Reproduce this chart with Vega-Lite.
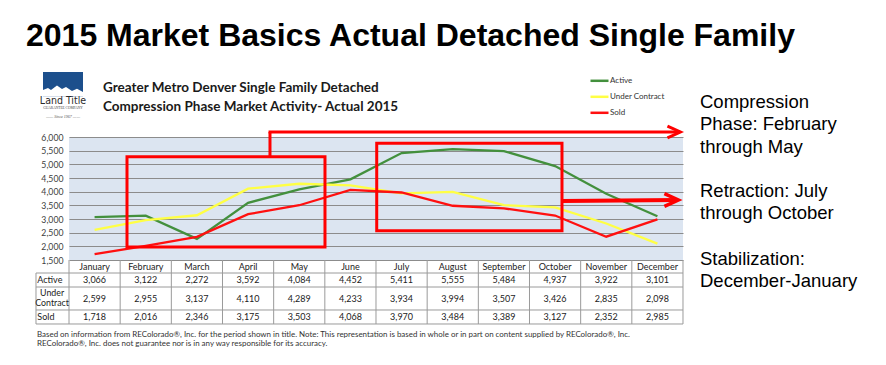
{
  "$schema": "https://vega.github.io/schema/vega-lite/v6.json",
  "width": 614,
  "height": 123,
  "autosize": {"type": "none"},
  "padding": {"left": 69, "top": 137, "right": 203, "bottom": 105},
  "background": "white",
  "config": {"view": {"fill": "#dce5f1", "stroke": null}, "font": "Lato"},
  "resolve": {"axis": {"x": "independent", "y": "independent"}},
  "data": {"values": [
    {"month": "January", "m": 1, "Active": 3066, "Under Contract": 2599, "Sold": 1718},
    {"month": "February", "m": 2, "Active": 3122, "Under Contract": 2955, "Sold": 2016},
    {"month": "March", "m": 3, "Active": 2272, "Under Contract": 3137, "Sold": 2346},
    {"month": "April", "m": 4, "Active": 3592, "Under Contract": 4110, "Sold": 3175},
    {"month": "May", "m": 5, "Active": 4084, "Under Contract": 4289, "Sold": 3503},
    {"month": "June", "m": 6, "Active": 4452, "Under Contract": 4233, "Sold": 4068},
    {"month": "July", "m": 7, "Active": 5411, "Under Contract": 3934, "Sold": 3970},
    {"month": "August", "m": 8, "Active": 5555, "Under Contract": 3994, "Sold": 3484},
    {"month": "September", "m": 9, "Active": 5484, "Under Contract": 3507, "Sold": 3389},
    {"month": "October", "m": 10, "Active": 4937, "Under Contract": 3426, "Sold": 3127},
    {"month": "November", "m": 11, "Active": 3922, "Under Contract": 2835, "Sold": 2352},
    {"month": "December", "m": 12, "Active": 3101, "Under Contract": 2098, "Sold": 2985}
  ]},
  "layer": [
    {
      "transform": [{"fold": ["Active", "Under Contract", "Sold"], "as": ["series", "value"]}],
      "mark": {"type": "line", "strokeWidth": 2.3},
      "encoding": {
        "x": {"field": "m", "type": "quantitative", "scale": {"domain": [0.5, 12.5], "nice": false, "zero": false}, "axis": null},
        "y": {"field": "value", "type": "quantitative", "scale": {"domain": [1500, 6000], "nice": false, "zero": false},
          "axis": {"values": [1500, 2000, 2500, 3000, 3500, 4000, 4500, 5000, 5500, 6000], "labelExpr": "format(datum.value, ',')", "title": null, "domain": false, "ticks": false,
            "labelFontSize": 8.7, "labelColor": "#404040", "labelPadding": 6, "labelFont": "Lato", "labelFlush": false, "labelOverlap": false,
            "grid": true, "gridColor": "#8c8c8c", "gridWidth": 1}},
        "color": {"field": "series", "type": "nominal",
          "scale": {"domain": ["Active", "Under Contract", "Sold"], "range": ["#43903d", "#ffff44", "#ff1010"]},
          "legend": {"orient": "none", "legendX": 523, "legendY": -63.7, "title": null, "symbolType": "M-1.5,0H1.5", "symbolSize": 144,
            "symbolStrokeWidth": 2.5, "labelFontSize": 8, "labelFont": "Lato", "labelColor": "#333333", "labelOffset": 3, "rowPadding": 3, "padding": 0, "direction": "vertical"}}
      }
    },
    {
      "mark": {"type": "rule", "color": "#9a9a9a", "strokeWidth": 1, "xOffset": 25.58},
      "encoding": {
        "x": {"field": "m", "type": "quantitative", "scale": {"domain": [0.5, 12.5], "nice": false, "zero": false}, "axis": null},
        "y": {"datum": 1500, "type": "quantitative", "scale": {"domain": [1500, 6000], "nice": false, "zero": false}, "axis": null},
        "y2": {"datum": -841}
      }
    },
    {
      "data": {"values": [{}]},
      "mark": {"type": "rule", "color": "#9a9a9a", "strokeWidth": 1},
      "encoding": {
        "x": {"datum": 0.5, "type": "quantitative", "scale": {"domain": [0.5, 12.5], "nice": false, "zero": false}, "axis": null},
        "y": {"datum": 1500, "type": "quantitative", "scale": {"domain": [1500, 6000], "nice": false, "zero": false}, "axis": null},
        "y2": {"datum": -841}
      }
    },
    {
      "data": {"values": [{}]},
      "mark": {"type": "rule", "color": "#9a9a9a", "strokeWidth": 1},
      "encoding": {
        "x": {"datum": -0.145, "type": "quantitative", "scale": {"domain": [0.5, 12.5], "nice": false, "zero": false}, "axis": null},
        "y": {"datum": 1024, "type": "quantitative", "scale": {"domain": [1500, 6000], "nice": false, "zero": false}, "axis": null},
        "y2": {"datum": -841}
      }
    },
    {
      "data": {"values": [{}]},
      "mark": {"type": "rule", "color": "#9a9a9a", "strokeWidth": 1},
      "encoding": {
        "x": {"datum": -0.145, "type": "quantitative", "scale": {"domain": [0.5, 12.5], "nice": false, "zero": false}, "axis": null},
        "x2": {"datum": 12.5},
        "y": {"datum": 1024, "type": "quantitative", "scale": {"domain": [1500, 6000], "nice": false, "zero": false}, "axis": null}
      }
    },
    {
      "data": {"values": [{}]},
      "mark": {"type": "rule", "color": "#9a9a9a", "strokeWidth": 1},
      "encoding": {
        "x": {"datum": -0.145, "type": "quantitative", "scale": {"domain": [0.5, 12.5], "nice": false, "zero": false}, "axis": null},
        "x2": {"datum": 12.5},
        "y": {"datum": 512, "type": "quantitative", "scale": {"domain": [1500, 6000], "nice": false, "zero": false}, "axis": null}
      }
    },
    {
      "data": {"values": [{}]},
      "mark": {"type": "rule", "color": "#9a9a9a", "strokeWidth": 1},
      "encoding": {
        "x": {"datum": -0.145, "type": "quantitative", "scale": {"domain": [0.5, 12.5], "nice": false, "zero": false}, "axis": null},
        "x2": {"datum": 12.5},
        "y": {"datum": -329, "type": "quantitative", "scale": {"domain": [1500, 6000], "nice": false, "zero": false}, "axis": null}
      }
    },
    {
      "data": {"values": [{}]},
      "mark": {"type": "rule", "color": "#9a9a9a", "strokeWidth": 1},
      "encoding": {
        "x": {"datum": -0.145, "type": "quantitative", "scale": {"domain": [0.5, 12.5], "nice": false, "zero": false}, "axis": null},
        "x2": {"datum": 12.5},
        "y": {"datum": -841, "type": "quantitative", "scale": {"domain": [1500, 6000], "nice": false, "zero": false}, "axis": null}
      }
    },
    {
      "mark": {"type": "text", "fontSize": 9, "color": "#222222", "font": "Lato", "baseline": "middle"},
      "encoding": {
        "x": {"field": "m", "type": "quantitative", "scale": {"domain": [0.5, 12.5], "nice": false, "zero": false}, "axis": null},
        "y": {"datum": 1262, "type": "quantitative", "scale": {"domain": [1500, 6000], "nice": false, "zero": false}, "axis": null},
        "text": {"field": "month"}
      }
    },
    {
      "mark": {"type": "text", "fontSize": 9, "color": "#222222", "font": "Lato", "baseline": "middle"},
      "encoding": {
        "x": {"field": "m", "type": "quantitative", "scale": {"domain": [0.5, 12.5], "nice": false, "zero": false}, "axis": null},
        "y": {"datum": 768, "type": "quantitative", "scale": {"domain": [1500, 6000], "nice": false, "zero": false}, "axis": null},
        "text": {"field": "Active", "format": ","}
      }
    },
    {
      "mark": {"type": "text", "fontSize": 9, "color": "#222222", "font": "Lato", "baseline": "middle"},
      "encoding": {
        "x": {"field": "m", "type": "quantitative", "scale": {"domain": [0.5, 12.5], "nice": false, "zero": false}, "axis": null},
        "y": {"datum": 62, "type": "quantitative", "scale": {"domain": [1500, 6000], "nice": false, "zero": false}, "axis": null},
        "text": {"field": "Under Contract", "format": ","}
      }
    },
    {
      "mark": {"type": "text", "fontSize": 9, "color": "#222222", "font": "Lato", "baseline": "middle"},
      "encoding": {
        "x": {"field": "m", "type": "quantitative", "scale": {"domain": [0.5, 12.5], "nice": false, "zero": false}, "axis": null},
        "y": {"datum": -596, "type": "quantitative", "scale": {"domain": [1500, 6000], "nice": false, "zero": false}, "axis": null},
        "text": {"field": "Sold", "format": ","}
      }
    },
    {
      "data": {"values": [{}]},
      "mark": {"type": "text", "fontSize": 9, "color": "#222222", "font": "Lato", "baseline": "middle", "align": "left", "text": "Active"},
      "encoding": {
        "x": {"datum": -0.1195, "type": "quantitative", "scale": {"domain": [0.5, 12.5], "nice": false, "zero": false}, "axis": null},
        "y": {"datum": 768, "type": "quantitative", "scale": {"domain": [1500, 6000], "nice": false, "zero": false}, "axis": null}
      }
    },
    {
      "data": {"values": [{}]},
      "mark": {"type": "text", "fontSize": 8.8, "color": "#222222", "font": "Lato", "baseline": "middle", "align": "center", "lineHeight": 10.5, "text": ["Under", "Contract"]},
      "encoding": {
        "x": {"datum": 0.17, "type": "quantitative", "scale": {"domain": [0.5, 12.5], "nice": false, "zero": false}, "axis": null},
        "y": {"datum": 293, "type": "quantitative", "scale": {"domain": [1500, 6000], "nice": false, "zero": false}, "axis": null}
      }
    },
    {
      "data": {"values": [{}]},
      "mark": {"type": "text", "fontSize": 9, "color": "#222222", "font": "Lato", "baseline": "middle", "align": "left", "text": "Sold"},
      "encoding": {
        "x": {"datum": -0.1195, "type": "quantitative", "scale": {"domain": [0.5, 12.5], "nice": false, "zero": false}, "axis": null},
        "y": {"datum": -596, "type": "quantitative", "scale": {"domain": [1500, 6000], "nice": false, "zero": false}, "axis": null}
      }
    },
    {
      "data": {"values": [{}]},
      "mark": {"type": "rect", "fillOpacity": 0, "stroke": "#ff0000", "strokeWidth": 3},
      "encoding": {
        "x": {"datum": 1.6335, "type": "quantitative", "scale": {"domain": [0.5, 12.5], "nice": false, "zero": false}, "axis": null},
        "x2": {"datum": 5.503},
        "y": {"datum": 5279, "type": "quantitative", "scale": {"domain": [1500, 6000], "nice": false, "zero": false}, "axis": null},
        "y2": {"datum": 1976}
      }
    },
    {
      "data": {"values": [{}]},
      "mark": {"type": "rect", "fillOpacity": 0, "stroke": "#ff0000", "strokeWidth": 3},
      "encoding": {
        "x": {"datum": 6.514, "type": "quantitative", "scale": {"domain": [0.5, 12.5], "nice": false, "zero": false}, "axis": null},
        "x2": {"datum": 10.135},
        "y": {"datum": 5770, "type": "quantitative", "scale": {"domain": [1500, 6000], "nice": false, "zero": false}, "axis": null},
        "y2": {"datum": 2572}
      }
    },
    {
      "data": {"values": [{}]},
      "mark": {"type": "rule", "color": "#ff0000", "strokeWidth": 3},
      "encoding": {
        "x": {"datum": 4.428, "type": "quantitative", "scale": {"domain": [0.5, 12.5], "nice": false, "zero": false}, "axis": null},
        "y": {"datum": 5279, "type": "quantitative", "scale": {"domain": [1500, 6000], "nice": false, "zero": false}, "axis": null},
        "y2": {"datum": 6183}
      }
    },
    {
      "data": {"values": [{}]},
      "mark": {"type": "rule", "color": "#ff0000", "strokeWidth": 3},
      "encoding": {
        "x": {"datum": 4.4, "type": "quantitative", "scale": {"domain": [0.5, 12.5], "nice": false, "zero": false}, "axis": null},
        "x2": {"datum": 12.44},
        "y": {"datum": 6183, "type": "quantitative", "scale": {"domain": [1500, 6000], "nice": false, "zero": false}, "axis": null}
      }
    },
    {
      "data": {"values": [{}]},
      "mark": {"type": "point", "shape": "M-1,-0.46L0,0L-1,0.46", "filled": false, "stroke": "#ff0000", "strokeWidth": 3, "size": 676, "opacity": 1},
      "encoding": {
        "x": {"datum": 12.45, "type": "quantitative", "scale": {"domain": [0.5, 12.5], "nice": false, "zero": false}, "axis": null},
        "y": {"datum": 6183, "type": "quantitative", "scale": {"domain": [1500, 6000], "nice": false, "zero": false}, "axis": null}
      }
    },
    {
      "data": {"values": [{}]},
      "mark": {"type": "rule", "color": "#ff0000", "strokeWidth": 4},
      "encoding": {
        "x": {"datum": 10.135, "type": "quantitative", "scale": {"domain": [0.5, 12.5], "nice": false, "zero": false}, "axis": null},
        "x2": {"datum": 12.39},
        "y": {"datum": 3659, "type": "quantitative", "scale": {"domain": [1500, 6000], "nice": false, "zero": false}, "axis": null},
        "y2": {"datum": 3695}
      }
    },
    {
      "data": {"values": [{}]},
      "mark": {"type": "point", "shape": "M-1,-0.46L0,0L-1,0.46", "filled": false, "stroke": "#ff0000", "strokeWidth": 3.5, "size": 784, "opacity": 1},
      "encoding": {
        "x": {"datum": 12.41, "type": "quantitative", "scale": {"domain": [0.5, 12.5], "nice": false, "zero": false}, "axis": null},
        "y": {"datum": 3695, "type": "quantitative", "scale": {"domain": [1500, 6000], "nice": false, "zero": false}, "axis": null}
      }
    },
    {
      "data": {"values": [{}]},
      "mark": {"type": "text", "fontSize": 32, "font": "Liberation Sans", "fontWeight": "bold", "color": "#000000", "align": "left", "baseline": "alphabetic", "text": "2015 Market Basics Actual Detached Single Family"},
      "encoding": {
        "x": {"datum": -0.34, "type": "quantitative", "scale": {"domain": [0.5, 12.5], "nice": false, "zero": false}, "axis": null},
        "y": {"datum": 9329, "type": "quantitative", "scale": {"domain": [1500, 6000], "nice": false, "zero": false}, "axis": null}
      }
    },
    {
      "data": {"values": [{}]},
      "mark": {"type": "text", "fontSize": 13.5, "font": "Lato", "fontWeight": "bold", "color": "#1a1a1a", "align": "left", "baseline": "alphabetic", "lineHeight": 18.7,
        "text": ["Greater Metro Denver Single Family Detached", "Compression Phase Market Activity- Actual 2015"]},
      "encoding": {
        "x": {"datum": 1.1645, "type": "quantitative", "scale": {"domain": [0.5, 12.5], "nice": false, "zero": false}, "axis": null},
        "y": {"datum": 7635, "type": "quantitative", "scale": {"domain": [1500, 6000], "nice": false, "zero": false}, "axis": null}
      }
    },
    {
      "data": {"values": [{}]},
      "mark": {"type": "rect", "color": "#1c4f8c"},
      "encoding": {
        "x": {"datum": -0.008, "type": "quantitative", "scale": {"domain": [0.5, 12.5], "nice": false, "zero": false}, "axis": null},
        "x2": {"datum": 0.7736},
        "y": {"datum": 8378, "type": "quantitative", "scale": {"domain": [1500, 6000], "nice": false, "zero": false}, "axis": null},
        "y2": {"datum": 7474}
      }
    },
    {
      "data": {"values": [{}]},
      "mark": {"type": "point", "shape": "M-1,0.28L-1,-0.05L-0.75,-0.15L-0.6,-0.05L-0.3,-0.28L-0.05,-0.1L0.15,-0.2L0.45,0L0.7,-0.12L1,0.05L1,0.28Z", "filled": true, "fill": "#ffffff", "strokeWidth": 0, "size": 1600, "opacity": 1},
      "encoding": {
        "x": {"datum": 0.3827, "type": "quantitative", "scale": {"domain": [0.5, 12.5], "nice": false, "zero": false}, "axis": null},
        "y": {"datum": 7679, "type": "quantitative", "scale": {"domain": [1500, 6000], "nice": false, "zero": false}, "axis": null}
      }
    },
    {
      "data": {"values": [{}]},
      "mark": {"type": "text", "fontSize": 10.5, "font": "Liberation Sans Narrow, DejaVu Sans Condensed", "color": "#2a2a2a", "align": "center", "baseline": "middle", "text": "Land Title"},
      "encoding": {
        "x": {"datum": 0.3827, "type": "quantitative", "scale": {"domain": [0.5, 12.5], "nice": false, "zero": false}, "axis": null},
        "y": {"datum": 7299, "type": "quantitative", "scale": {"domain": [1500, 6000], "nice": false, "zero": false}, "axis": null}
      }
    },
    {
      "data": {"values": [{}]},
      "mark": {"type": "text", "fontSize": 3.5, "font": "Liberation Serif", "color": "#444444", "align": "center", "baseline": "middle", "text": "GUARANTEE COMPANY"},
      "encoding": {
        "x": {"datum": 0.3827, "type": "quantitative", "scale": {"domain": [0.5, 12.5], "nice": false, "zero": false}, "axis": null},
        "y": {"datum": 7050, "type": "quantitative", "scale": {"domain": [1500, 6000], "nice": false, "zero": false}, "axis": null}
      }
    },
    {
      "data": {"values": [{}]},
      "mark": {"type": "text", "fontSize": 4, "font": "Liberation Serif", "fontStyle": "italic", "color": "#555555", "align": "center", "baseline": "middle", "text": "—— Since 1967 ——"},
      "encoding": {
        "x": {"datum": 0.3827, "type": "quantitative", "scale": {"domain": [0.5, 12.5], "nice": false, "zero": false}, "axis": null},
        "y": {"datum": 6743, "type": "quantitative", "scale": {"domain": [1500, 6000], "nice": false, "zero": false}, "axis": null}
      }
    },
    {
      "data": {"values": [{}]},
      "mark": {"type": "text", "fontSize": 18.5, "font": "Liberation Sans", "color": "#000000", "align": "left", "baseline": "alphabetic", "lineHeight": 22.2,
        "text": ["Compression", "Phase: February", "through May"]},
      "encoding": {
        "x": {"datum": 12.832, "type": "quantitative", "scale": {"domain": [0.5, 12.5], "nice": false, "zero": false}, "axis": null},
        "y": {"datum": 7050, "type": "quantitative", "scale": {"domain": [1500, 6000], "nice": false, "zero": false}, "axis": null}
      }
    },
    {
      "data": {"values": [{}]},
      "mark": {"type": "text", "fontSize": 18.5, "font": "Liberation Sans", "color": "#000000", "align": "left", "baseline": "alphabetic", "lineHeight": 22.2,
        "text": ["Retraction: July", "through October"]},
      "encoding": {
        "x": {"datum": 12.832, "type": "quantitative", "scale": {"domain": [0.5, 12.5], "nice": false, "zero": false}, "axis": null},
        "y": {"datum": 3794, "type": "quantitative", "scale": {"domain": [1500, 6000], "nice": false, "zero": false}, "axis": null}
      }
    },
    {
      "data": {"values": [{}]},
      "mark": {"type": "text", "fontSize": 18.5, "font": "Liberation Sans", "color": "#000000", "align": "left", "baseline": "alphabetic", "lineHeight": 22.2,
        "text": ["Stabilization:", "December-January"]},
      "encoding": {
        "x": {"datum": 12.832, "type": "quantitative", "scale": {"domain": [0.5, 12.5], "nice": false, "zero": false}, "axis": null},
        "y": {"datum": 1317, "type": "quantitative", "scale": {"domain": [1500, 6000], "nice": false, "zero": false}, "axis": null}
      }
    },
    {
      "data": {"values": [{}]},
      "mark": {"type": "text", "fontSize": 7.95, "font": "Lato", "color": "#333333", "align": "left", "baseline": "middle", "lineHeight": 9.3,
        "text": ["Based on information from REColorado®, Inc. for the period shown in title. Note: This representation is based in whole or in part on content supplied by REColorado®, Inc.", "REColorado®, Inc. does not guarantee nor is in any way responsible for its accuracy."]},
      "encoding": {
        "x": {"datum": -0.1254, "type": "quantitative", "scale": {"domain": [0.5, 12.5], "nice": false, "zero": false}, "axis": null},
        "y": {"datum": -1244, "type": "quantitative", "scale": {"domain": [1500, 6000], "nice": false, "zero": false}, "axis": null}
      }
    }
  ]
}
